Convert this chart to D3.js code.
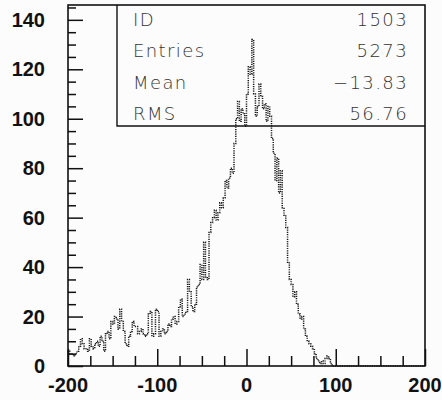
<!DOCTYPE html>
<html>
<head>
<meta charset="utf-8">
<script src="https://cdn.jsdelivr.net/npm/d3@7"></script>
<style>
  html, body { margin: 0; padding: 0; background: #fcfcfc; }
  svg { display: block; }
</style>
</head>
<body>
<svg id="chart" width="442" height="400"></svg>
<script>
// Histogram 1503: 200 bins of width 2 over [-200, 200]
const binLow = -200;
const binWidth = 2;
const counts = [
  // -200 .. -180
  6, 5, 5, 4, 5, 6, 8, 11, 9, 7,
  // -180 .. -160
  7, 6, 11, 8, 7, 9, 10, 8, 12, 10,
  // -160 .. -140
  6, 13, 14, 11, 18, 17, 20, 19, 15, 23,
  // -140 .. -120
  18, 14, 9, 8, 12, 14, 18, 16, 16, 13,
  // -120 .. -100
  14, 15, 13, 12, 13, 21, 22, 12, 13, 23,
  // -100 .. -80
  22, 12, 14, 15, 13, 14, 17, 16, 19, 20,
  // -80 .. -60
  17, 18, 24, 27, 20, 21, 22, 35, 30, 24,
  // -60 .. -40
  22, 25, 32, 33, 41, 35, 50, 36, 35, 54,
  // -40 .. -20
  58, 60, 63, 59, 62, 66, 64, 68, 75, 72,
  // -20 .. 0
  76, 80, 78, 90, 100, 107, 99, 104, 102, 97,
  // 0 .. 20
  110, 121, 118, 132, 110, 101, 105, 114, 109, 104,
  // 20 .. 40
  106, 99, 105, 101, 92, 86, 75, 84, 70, 79,
  // 40 .. 60
  64, 61, 56, 42, 35, 33, 28, 30, 25, 21,
  // 60 .. 80
  19, 20, 15, 12, 10, 9, 8, 7, 5, 3,
  // 80 .. 100
  2, 1, 2, 1, 3, 4, 3, 1, 0, 0,
  // 100 .. 200
  0, 0, 0, 0, 0, 0, 0, 0, 0, 0,
  0, 0, 0, 0, 0, 0, 0, 0, 0, 0,
  0, 0, 0, 0, 0, 0, 0, 0, 0, 0,
  0, 0, 0, 0, 0, 0, 0, 0, 0, 0,
  0, 0, 0, 0, 0, 0, 0, 0, 0, 0
];

// Axis tick values
const xMajorTicks = [-200, -100, 0, 100, 200];
const xMinorTicks = [-175, -150, -125, -75, -50, -25, 25, 50, 75, 125, 150, 175];
const yMajorTicks = [0, 20, 40, 60, 80, 100, 120, 140];
const yMinorTicks = d3.range(5, 146, 5).filter(v => v % 20 !== 0);

// Statistics box
const statNames = ["ID", "Entries", "Mean", "RMS"];
const statValues = ["1503", "5273", "\u221213.83", "56.76"];

const svg = d3.select("#chart");

const x = d3.scaleLinear().domain([-200, 200]).range([68, 425]);
const y = d3.scaleLinear().domain([0, 146]).range([366, 5]);

const ink = "#111";

// Histogram outline as a dotted step line
const pts = [[binLow, 0]];
counts.forEach((c, i) => {
  pts.push([binLow + i * binWidth, c]);
});
pts.push([binLow + counts.length * binWidth, counts[counts.length - 1]]);
pts.push([binLow + counts.length * binWidth, 0]);

const line = d3.line()
  .x(d => x(d[0]))
  .y(d => y(d[1]))
  .curve(d3.curveStepAfter);

svg.append("path")
  .attr("d", line(pts))
  .attr("fill", "none")
  .attr("stroke", "#1a1a1a")
  .attr("stroke-width", 1.5)
  .attr("stroke-dasharray", "1.2 1.1");

// Ticks drawn inward from the bottom and left edges
const gx = svg.append("g").attr("transform", `translate(0,${y(0)})`);
gx.call(d3.axisBottom(x).tickValues(xMinorTicks).tickSize(-10).tickFormat(""));
gx.append("g").call(d3.axisBottom(x).tickValues(xMajorTicks).tickSize(-17).tickFormat(""));
gx.selectAll(".domain").remove();
gx.selectAll("line").attr("stroke", ink).attr("stroke-width", 1.5);

const gy = svg.append("g").attr("transform", `translate(${x(-200)},0)`);
gy.call(d3.axisLeft(y).tickValues(yMinorTicks).tickSize(-8).tickFormat(""));
gy.append("g").call(d3.axisLeft(y).tickValues(yMajorTicks).tickSize(-15).tickFormat(""));
gy.selectAll(".domain").remove();
gy.selectAll("line").attr("stroke", ink).attr("stroke-width", 1.5);

// Tick labels
const labelFont = "'Liberation Sans', Arial, Helvetica, sans-serif";
svg.append("g").selectAll("text")
  .data(xMajorTicks)
  .join("text")
  .attr("x", d => x(d))
  .attr("y", 392)
  .attr("text-anchor", "middle")
  .attr("font-family", labelFont)
  .attr("font-weight", "bold")
  .attr("font-size", 20)
  .attr("fill", ink)
  .text(d => d);

svg.append("g").selectAll("text")
  .data(yMajorTicks)
  .join("text")
  .attr("x", 45)
  .attr("y", d => y(d) + 7)
  .attr("text-anchor", "end")
  .attr("font-family", labelFont)
  .attr("font-weight", "bold")
  .attr("font-size", 20)
  .attr("fill", ink)
  .text(d => d);

// Frame
svg.append("rect")
  .attr("x", x(-200)).attr("y", y(146))
  .attr("width", x(200) - x(-200)).attr("height", y(0) - y(146))
  .attr("fill", "none")
  .attr("stroke", ink)
  .attr("stroke-width", 1.6);

// Statistics box in the upper right corner
const boxLeft = 117, boxBottom = 126;
svg.append("path")
  .attr("d", `M${boxLeft},${y(146)}V${boxBottom}H${x(200)}`)
  .attr("fill", "none")
  .attr("stroke", ink)
  .attr("stroke-width", 1.4);

const statFont = "'DejaVu Sans', 'Liberation Sans', sans-serif";
const rowY = d3.scalePoint().domain(statNames).range([26, 120]);
const stats = svg.append("g")
  .attr("font-family", statFont)
  .attr("font-weight", 200)
  .attr("font-size", 18)
  .attr("letter-spacing", "1.4px")
  .attr("fill", "#333");

stats.selectAll("text.name")
  .data(statNames)
  .join("text")
  .attr("class", "name")
  .attr("x", 133)
  .attr("y", d => rowY(d))
  .text(d => d);

stats.selectAll("text.value")
  .data(statValues)
  .join("text")
  .attr("class", "value")
  .attr("x", 408)
  .attr("y", (d, i) => rowY(statNames[i]))
  .attr("text-anchor", "end")
  .text(d => d);
</script>
</body>
</html>
